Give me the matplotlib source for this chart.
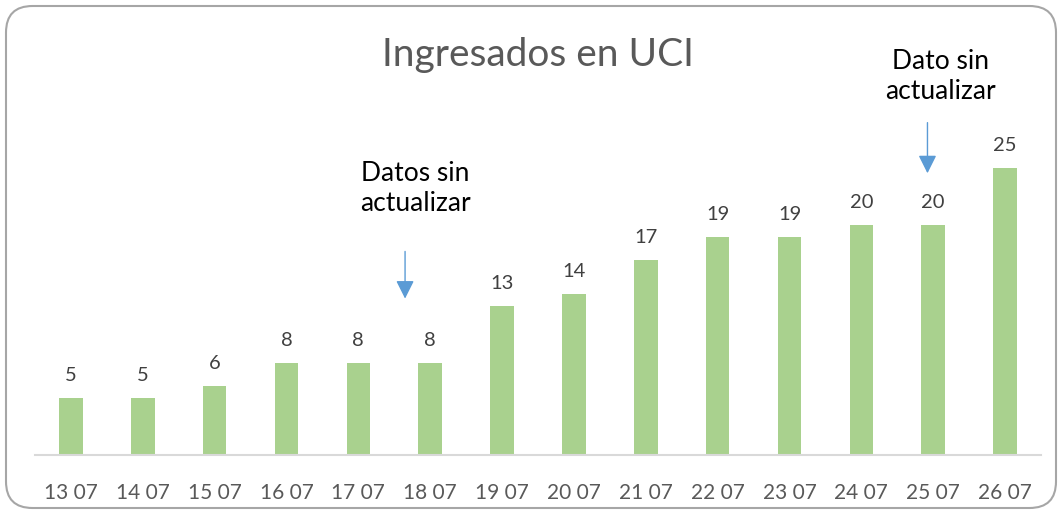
import numpy as np
import matplotlib.pyplot as plt
from matplotlib.patches import FancyBboxPatch

plt.rcParams['font.family'] = ['Lato', 'DejaVu Sans']

fechas = ['13 07', '14 07', '15 07', '16 07', '17 07', '18 07', '19 07',
          '20 07', '21 07', '22 07', '23 07', '24 07', '25 07', '26 07']
ingresados = [5, 5, 6, 8, 8, 8, 13, 14, 17, 19, 19, 20, 20, 25]

fig = plt.figure(figsize=(10.62, 5.14), dpi=100)
# rounded frame
frame = FancyBboxPatch((6/1062, 6/514), 1050/1062, 502/514,
                       boxstyle="round,pad=0,rounding_size=0.025",
                       transform=fig.transFigure, fc='none',
                       ec='#A6A6A6', lw=1.5, mutation_aspect=1062/514, zorder=-1)
fig.patches.append(frame)

ax = fig.add_axes([35/1062, 59/514, 1006/1062, 345/514])
ax.patch.set_alpha(0)
x = np.arange(len(fechas))
ax.bar(x, ingresados, width=0.33, color='#A9D18E', zorder=2)
for xi, v in zip(x, ingresados):
    ax.text(xi, v + 1.2, str(v), ha='center', va='bottom', fontsize=14.5, color='#404040')

ax.set_xlim(-0.5, 13.5)
ax.set_ylim(0, 30)
ax.set_yticks([])
ax.set_xticks(x)
ax.set_xticklabels(fechas, fontsize=15, color='#595959')
ax.tick_params(axis='x', length=0, pad=20)
for s in ['top', 'right', 'left']:
    ax.spines[s].set_visible(False)
ax.spines['bottom'].set_color('#D9D9D9')
ax.spines['bottom'].set_linewidth(1.5)

fig.text(538/1062, 1 - 55/514, 'Ingresados en UCI', ha='center', va='center',
         fontsize=28, color='#595959')

# notes with arrows
arrow = dict(arrowstyle='-|>,head_width=0.55,head_length=1.1',
             color='#5B9BD5', lw=1.0, shrinkA=0, shrinkB=0)
ax.text(4.79, 23.2, 'Datos sin\nactualizar', ha='center', va='center', fontsize=19,
        color='black', linespacing=1.25, clip_on=False)
ax.annotate('', xy=(4.65, 13.6), xytext=(4.65, 17.7), arrowprops=arrow)
ax.text(12.1, 32.9, 'Dato sin\nactualizar', ha='center', va='center', fontsize=19,
        color='black', linespacing=1.25, clip_on=False)
ax.annotate('', xy=(11.92, 24.5), xytext=(11.92, 28.9), arrowprops=arrow,
            annotation_clip=False)

fig.savefig('out.png', dpi=100)
